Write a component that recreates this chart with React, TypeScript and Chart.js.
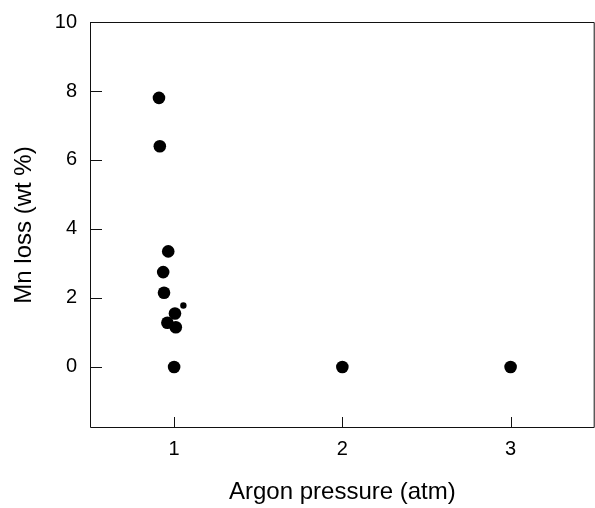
import React, { useEffect, useRef } from "react";
import { Chart, registerables } from "chart.js";

Chart.register(...registerables);

// Main data (Argon pressure in atm, Mn loss in wt %)
const pressure = [0.91, 0.915, 0.965, 0.935, 0.94, 1.005, 0.96, 1.01, 1.0, 2, 3];
const mnLoss = [7.8, 6.4, 3.35, 2.75, 2.15, 1.55, 1.28, 1.15, 0, 0, 0];
// Small marker
const smallPressure = [1.055];
const smallMnLoss = [1.78];

const xTickValues = [1, 2, 3];
const yTickValues = [0, 2, 4, 6, 8, 10];
const xTitle = "Argon pressure (atm)";
const yTitle = "Mn loss (wt %)";

const FONT = "'Liberation Sans', Arial, sans-serif";

const framePlugin = {
  id: "frame",
  afterDatasetsDraw(chart: any) {
    const { ctx, chartArea: a, scales } = chart;
    ctx.save();
    ctx.strokeStyle = "#111";
    ctx.lineWidth = 1;
    ctx.beginPath();
    ctx.rect(a.left + 0.5, a.top + 0.5, a.right - a.left - 1, a.bottom - a.top - 1);
    for (const v of xTickValues) {
      const px = Math.round(scales.x.getPixelForValue(v)) + 0.5;
      ctx.moveTo(px, a.bottom);
      ctx.lineTo(px, a.bottom - 11);
    }
    for (const v of yTickValues) {
      const py = Math.round(scales.y.getPixelForValue(v)) + 0.5;
      ctx.moveTo(a.left, py);
      ctx.lineTo(a.left + 12, py);
    }
    ctx.stroke();
    ctx.restore();
  },
};

export default function App() {
  const ref = useRef<HTMLCanvasElement>(null);

  useEffect(() => {
    document.body.style.margin = "0";
    document.body.style.overflow = "hidden";
    const canvas = ref.current;
    if (!canvas) return;
    const chart = new Chart(canvas, {
      type: "scatter",
      data: {
        datasets: [
          {
            data: pressure.map((x, i) => ({ x, y: mnLoss[i] })),
            backgroundColor: "#000",
            borderColor: "#000",
            pointRadius: 6.3,
            pointBorderWidth: 0,
          },
          {
            data: smallPressure.map((x, i) => ({ x, y: smallMnLoss[i] })),
            backgroundColor: "#000",
            borderColor: "#000",
            pointRadius: 3.2,
            pointBorderWidth: 0,
          },
        ],
      },
      options: {
        animation: false,
        responsive: true,
        maintainAspectRatio: false,
        layout: { padding: { top: 22, right: 1, left: 0, bottom: 0 } },
        plugins: { legend: { display: false }, tooltip: { enabled: false } },
        scales: {
          x: {
            type: "linear",
            min: 0.5,
            max: 3.5,
            grid: { display: false },
            border: { display: false },
            afterBuildTicks: (s: any) => {
              s.ticks = xTickValues.map((value) => ({ value }));
            },
            afterFit: (s: any) => {
              s.height = 80;
              s.paddingLeft = 0;
              s.paddingRight = 0;
            },
            ticks: {
              color: "#000",
              padding: 1,
              font: { family: FONT, size: 20 },
              maxRotation: 0,
            },
            title: {
              display: true,
              text: xTitle,
              color: "#000",
              font: { family: FONT, size: 24 },
              padding: { top: 0, bottom: 1 },
            },
          },
          y: {
            type: "linear",
            min: -1.77,
            max: 10,
            grid: { display: false },
            border: { display: false },
            afterBuildTicks: (s: any) => {
              s.ticks = yTickValues.map((value) => ({ value }));
            },
            afterFit: (s: any) => {
              s.width = 90;
              s.paddingTop = 0;
              s.paddingBottom = 0;
            },
            ticks: {
              color: "#000",
              padding: 5,
              font: { family: FONT, size: 20 },
            },
            title: {
              display: true,
              text: yTitle,
              color: "#000",
              font: { family: FONT, size: 24 },
              padding: { top: 10, bottom: 0 },
            },
          },
        },
      },
      plugins: [framePlugin],
    });
    return () => chart.destroy();
  }, []);

  return (
    <div style={{ width: 601, height: 508, position: "relative" }}>
      <canvas ref={ref} />
    </div>
  );
}
